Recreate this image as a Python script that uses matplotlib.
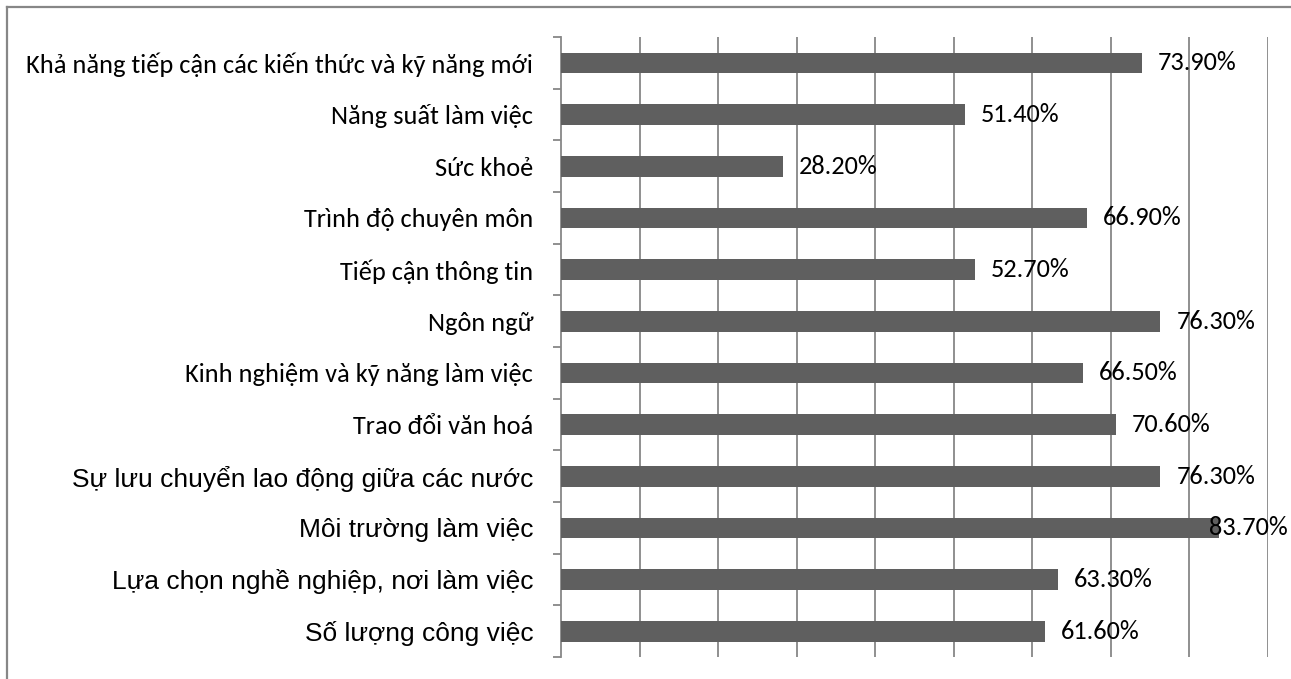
import matplotlib
matplotlib.use("Agg")
import matplotlib.pyplot as plt
from matplotlib.lines import Line2D

categories = [
    "Khả năng tiếp cận các kiến thức và kỹ năng mới",
    "Năng suất làm việc",
    "Sức khoẻ",
    "Trình độ chuyên môn",
    "Tiếp cận thông tin",
    "Ngôn ngữ",
    "Kinh nghiệm và kỹ năng làm việc",
    "Trao đổi văn hoá",
    "Sự lưu chuyển lao động giữa các nước",
    "Môi trường làm việc",
    "Lựa chọn nghề nghiệp, nơi làm việc",
    "Số lượng công việc",
]
values = [73.9, 51.4, 28.2, 66.9, 52.7, 76.3, 66.5, 70.6, 76.3, 83.7, 63.3, 61.6]
value_labels = ["73.90%", "51.40%", "28.20%", "66.90%", "52.70%", "76.30%",
                "66.50%", "70.60%", "76.30%", "83.70%", "63.30%", "61.60%"]
# label font group: first 8 Calibri-like, last 4 Arial-like
label_fonts = ["Carlito"] * 8 + ["Liberation Sans"] * 4

W, H = 1291, 679
fig = plt.figure(figsize=(W / 100, H / 100), dpi=100)
ax_l, ax_r, ax_t, ax_b = 561, 1268, 37, 657
ax = fig.add_axes([ax_l / W, 1 - ax_b / H, (ax_r - ax_l) / W, (ax_b - ax_t) / H])

grid_c = "#878787"
bar_c = "#5f5f5f"

n = len(categories)
ypos = list(range(n))
ax.barh(ypos, values, height=0.4, color=bar_c, zorder=3)
ax.set_xlim(0, 90)
ax.set_ylim(n - 0.5, -0.5)

ax.set_xticks(range(10, 91, 10))
ax.tick_params(axis="x", length=0, labelbottom=False)
ax.grid(axis="x", color=grid_c, linewidth=1.3, zorder=1)
ax.grid(axis="y", visible=False)

ax.set_yticks(ypos)
ax.set_yticklabels(categories)
ax.set_yticks([i - 0.5 for i in range(n + 1)], minor=True)
ax.tick_params(axis="y", which="major", length=0, pad=20)
ax.tick_params(axis="y", which="minor", length=5.8, width=1.3, color=grid_c, direction="out")
for lab, fnt in zip(ax.get_yticklabels(), label_fonts):
    lab.set_fontfamily(fnt)
    lab.set_fontsize(19)
    lab.set_color("black")

for s in ["top", "right", "bottom"]:
    ax.spines[s].set_visible(False)
ax.spines["left"].set_color(grid_c)
ax.spines["left"].set_linewidth(1.3)

texts = []
for y, v, t in zip(ypos, values, value_labels):
    tx = ax.annotate(t, xy=(v, y), xytext=(11.5, 0), textcoords="offset points",
                     ha="left", va="center", fontsize=19, family="Carlito",
                     color="black", zorder=4, annotation_clip=False)
    texts.append(tx)

fig.canvas.draw()
r = fig.canvas.get_renderer()
for tx in texts:
    bb = tx.get_window_extent(r)
    if bb.x1 > W - 3:
        shift = (bb.x1 - (W - 3)) * 72 / 100
        tx.set_position((11.5 - shift, 0))

# figure frame (top and left edges)
fig.add_artist(Line2D([7 / W, 1], [1 - 7 / H, 1 - 7 / H], color=grid_c, linewidth=1.6, transform=fig.transFigure))
fig.add_artist(Line2D([7 / W, 7 / W], [0, 1 - 7 / H], color=grid_c, linewidth=1.6, transform=fig.transFigure))

fig.savefig("out.png", dpi=100)
